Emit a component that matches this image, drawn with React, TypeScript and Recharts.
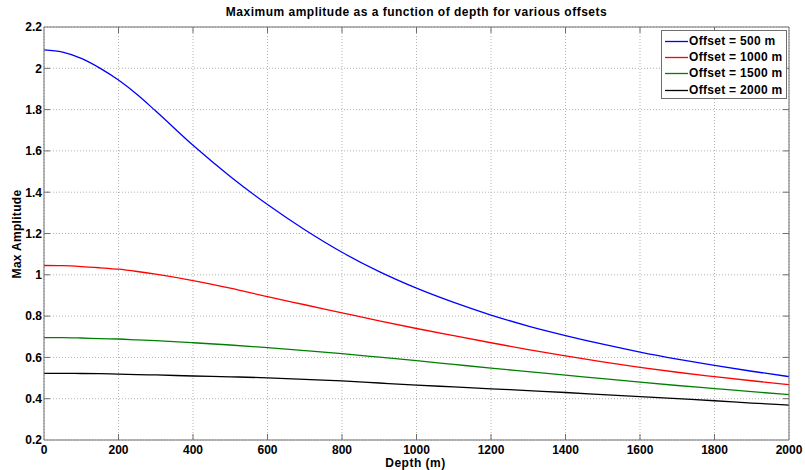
import React from 'react';
import { LineChart, Line, XAxis, YAxis, CartesianGrid } from 'recharts';

const depths = [0, 50, 100, 150, 200, 250, 300, 400, 500, 600, 700, 800, 900, 1000, 1100, 1200, 1300, 1400, 1500, 1600, 1700, 1800, 1900, 2000];
const offset500 = [2.089, 2.078, 2.048, 2.001, 1.943, 1.873, 1.793, 1.627, 1.476, 1.340, 1.218, 1.109, 1.015, 0.935, 0.866, 0.805, 0.752, 0.706, 0.664, 0.626, 0.592, 0.561, 0.533, 0.507];
const offset1000 = [1.045, 1.044, 1.040, 1.034, 1.027, 1.016, 1.003, 0.972, 0.935, 0.894, 0.855, 0.816, 0.777, 0.740, 0.705, 0.671, 0.638, 0.607, 0.578, 0.552, 0.528, 0.507, 0.487, 0.468];
const offset1500 = [0.696, 0.696, 0.694, 0.691, 0.689, 0.685, 0.681, 0.671, 0.660, 0.647, 0.633, 0.618, 0.601, 0.584, 0.566, 0.548, 0.531, 0.514, 0.497, 0.480, 0.464, 0.449, 0.434, 0.420];
const offset2000 = [0.523, 0.523, 0.522, 0.521, 0.519, 0.517, 0.515, 0.510, 0.506, 0.501, 0.494, 0.486, 0.476, 0.466, 0.457, 0.448, 0.439, 0.430, 0.420, 0.410, 0.400, 0.390, 0.379, 0.369];

const xTicks = [0, 200, 400, 600, 800, 1000, 1200, 1400, 1600, 1800, 2000];
const yTicks = [0.2, 0.4, 0.6, 0.8, 1.0, 1.2, 1.4, 1.6, 1.8, 2.0, 2.2];

const seriesNames = ['Offset = 500 m', 'Offset = 1000 m', 'Offset = 1500 m', 'Offset = 2000 m'];
const seriesKeys = ['o500', 'o1000', 'o1500', 'o2000'];
const seriesColors = ['#0000ff', '#ff0000', '#008000', '#000000'];
const seriesValues = [offset500, offset1000, offset1500, offset2000];

const titleText = 'Maximum amplitude as a function of depth for various offsets';
const xLabelText = 'Depth (m)';
const yLabelText = 'Max Amplitude';

const data = depths.map((d, i) => {
  const row: Record<string, number> = { depth: d };
  seriesKeys.forEach((k, j) => {
    row[k] = seriesValues[j][i];
  });
  return row;
});

const FONT = '"Liberation Sans", Arial, Helvetica, sans-serif';
const FRAME = '#6e6e6e';
const TICK_LEN = 6;

const fmtY = (v: number) => String(Number(v.toFixed(1)));

const BottomTick = (props: any) => {
  const { x, y, payload } = props;
  const axisY = y - 5;
  const v = payload.value;
  const edge = v === 0 || v === 2000;
  return (
    <g>
      {!edge && <line x1={x} x2={x} y1={axisY} y2={axisY - TICK_LEN} stroke={FRAME} strokeWidth={1} />}
      <text x={x} y={axisY + 14} textAnchor="middle" fontFamily={FONT} fontWeight="bold" fontSize={12} fill="#000">
        {String(v)}
      </text>
    </g>
  );
};

const LeftTick = (props: any) => {
  const { x, y, payload } = props;
  const axisX = x + 2;
  const v = payload.value;
  const edge = Math.abs(v - 0.2) < 1e-6 || Math.abs(v - 2.2) < 1e-6;
  return (
    <g>
      {!edge && <line x1={axisX} x2={axisX + TICK_LEN} y1={y} y2={y} stroke={FRAME} strokeWidth={1} />}
      <text x={axisX - 2} y={y + 4.3} textAnchor="end" fontFamily={FONT} fontWeight="bold" fontSize={12} fill="#000">
        {fmtY(v)}
      </text>
    </g>
  );
};

const TopTick = (props: any) => {
  const { x, y, payload } = props;
  const v = payload.value;
  if (v === 0 || v === 2000) return <g />;
  return <line x1={x} x2={x} y1={y} y2={y + TICK_LEN} stroke={FRAME} strokeWidth={1} />;
};

const RightTick = (props: any) => {
  const { x, y, payload } = props;
  const v = payload.value;
  if (Math.abs(v - 0.2) < 1e-6 || Math.abs(v - 2.2) < 1e-6) return <g />;
  return <line x1={x} x2={x - TICK_LEN} y1={y} y2={y} stroke={FRAME} strokeWidth={1} />;
};

export default function App() {
  return (
    <div style={{ position: 'absolute', left: 0, top: 0, width: 805, height: 470, background: '#fff' }}>
      <LineChart width={805} height={470} data={data} margin={{ top: 0, right: 0, bottom: 0, left: 0 }}>
        <CartesianGrid stroke="#b4b4b4" strokeDasharray="1 2" />
        <XAxis
          dataKey="depth"
          type="number"
          domain={[0, 2000]}
          ticks={xTicks}
          height={30}
          axisLine={{ stroke: FRAME, strokeWidth: 1 }}
          tickLine={false}
          tickSize={0}
          tickMargin={5}
          tick={<BottomTick />}
          interval={0}
        />
        <XAxis
          xAxisId="top"
          orientation="top"
          dataKey="depth"
          type="number"
          domain={[0, 2000]}
          ticks={xTicks}
          height={27}
          axisLine={{ stroke: FRAME, strokeWidth: 1 }}
          tickLine={false}
          tickSize={0}
          tickMargin={0}
          tick={<TopTick />}
          interval={0}
        />
        <YAxis
          type="number"
          domain={[0.2, 2.2]}
          ticks={yTicks}
          width={44}
          axisLine={{ stroke: FRAME, strokeWidth: 1 }}
          tickLine={false}
          tickSize={0}
          tickMargin={2}
          tick={<LeftTick />}
          interval={0}
          allowDataOverflow
        />
        <YAxis
          yAxisId="right"
          orientation="right"
          type="number"
          domain={[0.2, 2.2]}
          ticks={yTicks}
          width={16}
          axisLine={{ stroke: FRAME, strokeWidth: 1 }}
          tickLine={false}
          tickSize={0}
          tickMargin={0}
          tick={<RightTick />}
          interval={0}
          allowDataOverflow
        />
        {seriesKeys.map((k, j) => (
          <Line
            key={k}
            dataKey={k}
            name={seriesNames[j]}
            type="monotone"
            stroke={seriesColors[j]}
            strokeWidth={1.3}
            dot={false}
            activeDot={false}
            isAnimationActive={false}
          />
        ))}
      </LineChart>
      <div
        style={{
          position: 'absolute', left: 44, width: 745, top: 5, textAlign: 'center',
          fontFamily: FONT, fontWeight: 'bold', fontSize: 12, letterSpacing: 0.5, lineHeight: '14px', color: '#000',
        }}
      >
        {titleText}
      </div>
      <div
        style={{
          position: 'absolute', left: 44, width: 743, top: 456, textAlign: 'center',
          fontFamily: FONT, fontWeight: 'bold', fontSize: 12, letterSpacing: 0.5, lineHeight: '14px', color: '#000',
        }}
      >
        {xLabelText}
      </div>
      <div
        style={{
          position: 'absolute', left: 16.5 - 100, top: 234 - 7, width: 200, textAlign: 'center',
          transform: 'rotate(-90deg)', transformOrigin: '100px 7px',
          fontFamily: FONT, fontWeight: 'bold', fontSize: 12, letterSpacing: 0.3, lineHeight: '14px', color: '#000',
        }}
      >
        {yLabelText}
      </div>
      <div
        style={{
          position: 'absolute', left: 661, top: 30, width: 124, height: 67,
          border: `1px solid ${FRAME}`, background: '#fff', boxSizing: 'content-box',
        }}
      >
        {seriesNames.map((n, j) => (
          <div key={n} style={{ position: 'absolute', left: 0, top: 2 + j * 16.2, height: 16, width: 124, display: 'flex', alignItems: 'center' }}>
            <svg width={27} height={16} style={{ display: 'block', flex: 'none' }}>
              <line x1={3} x2={26} y1={8.5} y2={8.5} stroke={seriesColors[j]} strokeWidth={1.3} />
            </svg>
            <span style={{ marginLeft: 0, fontFamily: FONT, fontWeight: 'bold', fontSize: 12, letterSpacing: 0.3, color: '#000', whiteSpace: 'nowrap' }}>
              {n}
            </span>
          </div>
        ))}
      </div>
    </div>
  );
}
